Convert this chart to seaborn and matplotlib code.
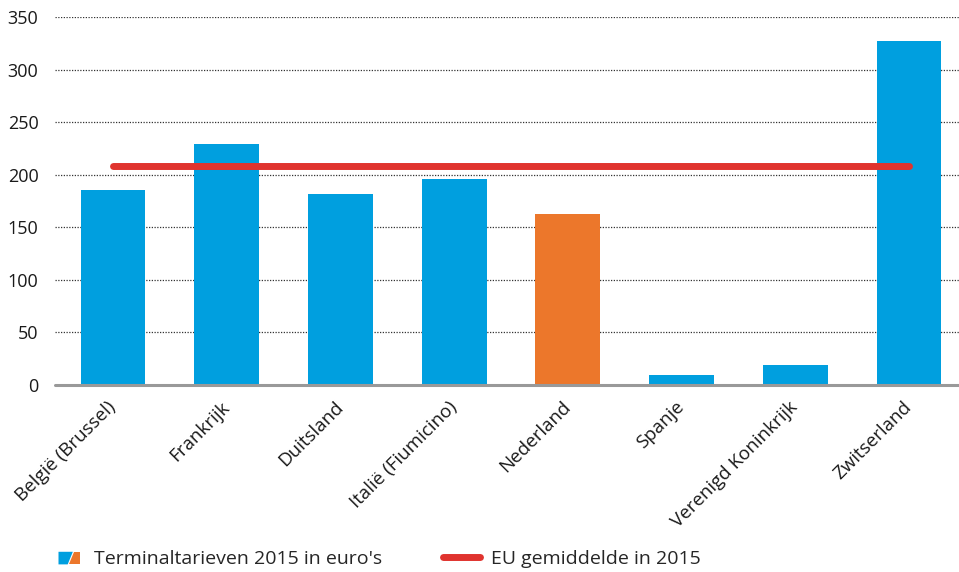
import matplotlib
matplotlib.use("Agg")
import matplotlib.pyplot as plt
import seaborn as sns
import pandas as pd
from matplotlib.patches import Polygon
from matplotlib.lines import Line2D
from matplotlib.legend_handler import HandlerBase

categories = ["België (Brussel)", "Frankrijk", "Duitsland", "Italië (Fiumicino)",
              "Nederland", "Spanje", "Verenigd Koninkrijk", "Zwitserland"]
values = [185.5, 229, 181.5, 196, 162.5, 9.5, 19, 327]
groups = ["other", "other", "other", "other", "nl", "other", "other", "other"]
eu_average = 208.5
yticks = [0, 50, 100, 150, 200, 250, 300, 350]

BLUE = "#009FDF"
ORANGE = "#EC772B"
RED = "#E0332E"

sns.set_theme(style="white")
plt.rcParams["font.family"] = ["Open Sans", "DejaVu Sans"]

df = pd.DataFrame({"land": categories, "tarief": values, "groep": groups})

fig = plt.figure(figsize=(9.59, 5.72), dpi=100)
ax = fig.add_axes([0.0574, 0.327, 0.9426, 0.643])

sns.barplot(data=df, x="land", y="tarief", hue="groep",
            palette={"other": BLUE, "nl": ORANGE}, dodge=False,
            width=0.57, legend=False, ax=ax, saturation=1, linewidth=0)

n = len(categories)
ax.plot([0, n - 1], [eu_average, eu_average], color=RED, lw=5,
        solid_capstyle="round", zorder=5)

ax.set_xlim(-0.51, n - 1 + 0.44)
ax.set_ylim(0, 350)
ax.set_yticks(yticks)
ax.set_yticklabels([str(t) for t in yticks], fontsize=13, color="#1a1a1a")
for t in yticks[1:]:
    ax.axhline(t, color="#333333", lw=0.9, ls=(0, (1, 1.2)), zorder=0)
ax.axhline(0, color="#999999", lw=2.2, zorder=6, clip_on=False)

ax.set_xlabel("")
ax.set_ylabel("")
for s in ax.spines.values():
    s.set_visible(False)
ax.tick_params(axis="both", length=0)
ax.tick_params(axis="y", pad=12)
ax.tick_params(axis="x", pad=14)
ax.set_xticks(range(n))
ax.set_xticklabels(categories, rotation=45, ha="right", va="center",
                   rotation_mode="anchor", fontsize=13.5, color="#1a1a1a")


class SplitHandler(HandlerBase):
    def create_artists(self, legend, orig, xd, yd, w, h, fontsize, trans):
        x0 = xd
        x1 = xd + w
        mid = xd + w * 0.55
        k = 0.12 * w
        p1 = Polygon([[x0, yd], [mid - k, yd], [mid + k, yd + h], [x0, yd + h]],
                     closed=True, facecolor=BLUE, edgecolor="none", transform=trans)
        p2 = Polygon([[mid - k + 1, yd], [x1, yd], [x1, yd + h], [mid + k + 1, yd + h]],
                     closed=True, facecolor=ORANGE, edgecolor="none", transform=trans)
        return [p1, p2]


class Dummy:
    pass


bar_handle = Dummy()
line_handle = Line2D([], [], color=RED, lw=5, solid_capstyle="round")

leg1 = fig.legend([bar_handle], ["Terminaltarieven 2015 in euro's"],
                  handler_map={Dummy: SplitHandler()},
                  loc="center left", bbox_to_anchor=(0.061, 0.023), frameon=False,
                  fontsize=14, handlelength=1.1, handleheight=0.62,
                  handletextpad=0.75, borderpad=0, borderaxespad=0)
leg2 = fig.legend([line_handle], ["EU gemiddelde in 2015"],
                  loc="center left", bbox_to_anchor=(0.462, 0.023), frameon=False,
                  fontsize=14, handlelength=1.9, handletextpad=0.55,
                  borderpad=0, borderaxespad=0)

fig.savefig("out.png", dpi=100)
